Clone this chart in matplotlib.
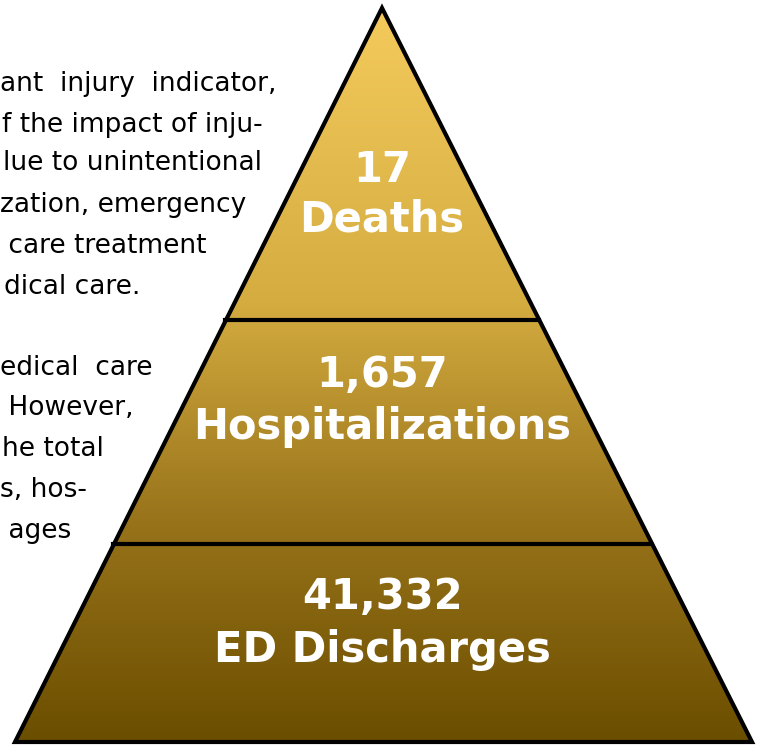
import numpy as np
import matplotlib.pyplot as plt
from matplotlib.patches import Polygon
from matplotlib.colors import LinearSegmentedColormap

# pyramid tiers, top to bottom
counts = ["17", "1,657", "41,332"]
names = ["Deaths", "Hospitalizations", "ED Discharges"]

# left-side text fragments (the paragraph is clipped by the image edge)
side_lines = ["ant  injury  indicator,", "f the impact of inju-", "lue to unintentional",
              "zation, emergency", " care treatment", "dical care.",
              "edical  care", " However,", "he total", "s, hos-", " ages"]
side_x = [0, 2, 3, 0, 0, 4, 0, 0, 2, 0, 0]
side_y = [84, 125, 163, 205, 246, 287, 368, 408, 449, 490, 531]

# geometry in pixel coords
apex = (382, 8)
base_y = 742
base_left, base_right = 15, 752
cuts = [320, 544]
text_y = [(170, 220), (375, 427), (597, 650)]

fig = plt.figure(figsize=(7.59, 7.46), dpi=100)
ax = fig.add_axes([0, 0, 1, 1])
ax.set_xlim(0, 759)
ax.set_ylim(746, 0)
ax.axis("off")

# gradient fill clipped to the triangle
cmap = LinearSegmentedColormap.from_list(
    "gold", [(0.0, "#F4CA5C"), (0.4, "#D4AC40"), (0.7, "#98731A"), (1.0, "#6B4E00")])
grad = np.linspace(0, 1, 256).reshape(-1, 1)
im = ax.imshow(grad, cmap=cmap, extent=[base_left, base_right, base_y, apex[1]],
               aspect="auto", origin="upper", zorder=1)
tri = Polygon([apex, (base_left, base_y), (base_right, base_y)], closed=True,
              facecolor="none", edgecolor="black", lw=3, joinstyle="miter", zorder=3)
ax.add_patch(tri)
im.set_clip_path(tri)

def half_width(y):
    return (y - apex[1]) / (base_y - apex[1]) * (base_right - base_left) / 2

for y in cuts:
    hw = half_width(y)
    ax.plot([apex[0] - hw, apex[0] + hw], [y, y], color="black", lw=3, zorder=2)

for c, n, (y1, y2) in zip(counts, names, text_y):
    ax.text(apex[0], y1, c, ha="center", va="center", color="white",
            fontsize=30, fontweight="bold", family="DejaVu Sans", zorder=4)
    ax.text(apex[0], y2, n, ha="center", va="center", color="white",
            fontsize=30, fontweight="bold", family="DejaVu Sans", zorder=4)

for s, x, y in zip(side_lines, side_x, side_y):
    ax.text(x, y, s, ha="left", va="center", color="black", fontsize=19,
            family="DejaVu Sans", zorder=4)

fig.savefig("out.png", dpi=100)
